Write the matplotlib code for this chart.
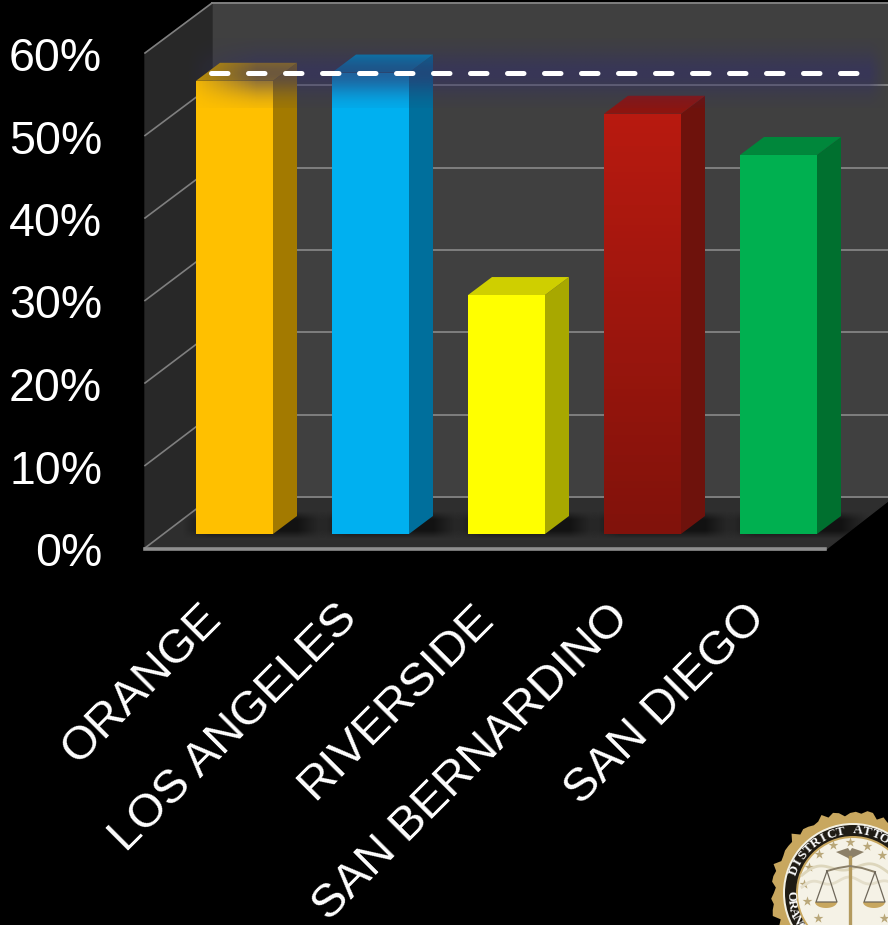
import numpy as np
import matplotlib.pyplot as plt
from matplotlib.patches import Polygon, Circle

plt.rcParams['font.family'] = ['Liberation Sans', 'DejaVu Sans']

counties = ['ORANGE', 'LOS ANGELES', 'RIVERSIDE', 'SAN BERNARDINO', 'SAN DIEGO']
values = [55, 56, 29, 51, 46]
state_value = 56
y_ticks = [0, 10, 20, 30, 40, 50, 60]
front_colors = ['#FFC000', '#00B0F0', '#FFFF00', '#B81A10', '#00B050']
side_colors = ['#A37A00', '#006F9C', '#A8A800', '#6E120C', '#00702F']
top_colors = ['#C49400', '#0089BC', '#CFCF00', '#8C1510', '#00873B']

W, H = 888, 925
BAR_W = 77 / 136
DX = 24 / 136
DY = 18 / 8.24


def px(x):
    return (x - 234.5) / 136


def py(y):
    return (534 - y) / 8.24


def soft_edge(n, width):
    u = np.linspace(0, 1, n)
    return np.clip(u / width, 0, 1) * np.clip((1 - u) / width, 0, 1)


fig = plt.figure(figsize=(W / 100, H / 100), dpi=100, facecolor='black')
ax = fig.add_axes([0, 0, 1, 1])
ax.set_facecolor('black')
ax.axis('off')

# walls and floor
ax.add_patch(Polygon([(px(212), py(3)), (px(888), py(3)), (px(888), py(497)), (px(212), py(497))],
                     color='#404040', zorder=1))
ax.add_patch(Polygon([(px(145), py(53)), (px(212), py(3)), (px(212), py(497)), (px(145), py(548))],
                     color='#282828', zorder=1))
ax.add_patch(Polygon([(px(145), py(548)), (px(212), py(497)), (px(888), py(497)), (px(888), py(501)),
                      (px(825), py(550))], color='#2E2E2E', zorder=1))

for t in y_ticks:
    yb = py(497 - t * 8.233)
    yf = py(548 - t * 8.25)
    ax.plot([px(145), px(212)], [yf, yb], color='#7F7F7F', lw=1.2, zorder=2)
    ax.plot([px(212), px(888)], [yb, yb], color='#7F7F7F', lw=1.4, zorder=2)
ax.plot([px(145), px(825)], [py(549), py(549)], color='#8F8F8F', lw=2.6, zorder=3)

for t in y_ticks:
    ax.text(px(102), py(549 - t * 8.25), f'{t}%', color='white', fontsize=33.5,
            ha='right', va='center_baseline', zorder=8)

# bars
x = np.arange(len(values))
shadow = np.zeros((40, 80, 4))
shadow[..., 3] = np.outer(soft_edge(40, 0.3), soft_edge(80, 0.2)) * 0.6
for i, v in enumerate(values):
    ax.imshow(shadow, extent=(i - BAR_W / 2 - 0.1, i + BAR_W / 2 + DX + 0.22, -0.6, DY + 0.6),
              origin='lower', aspect='auto', zorder=3)
    ax.add_patch(Polygon([(i + BAR_W / 2, 0), (i + BAR_W / 2 + DX, DY),
                          (i + BAR_W / 2 + DX, v + DY), (i + BAR_W / 2, v)],
                         color=side_colors[i], lw=0, zorder=4))
    ax.add_patch(Polygon([(i - BAR_W / 2, v), (i + BAR_W / 2, v),
                          (i + BAR_W / 2 + DX, v + DY), (i - BAR_W / 2 + DX, v + DY)],
                         color=top_colors[i], lw=0, zorder=4))
ax.bar(x, values, width=BAR_W, color=front_colors, linewidth=0, zorder=4)

# red bar darkens towards the floor
ramp = np.linspace(0, 1, 64).reshape(-1, 1)
ramp_rgba = np.zeros((64, 1, 4))
ramp_rgba[..., 3] = (1 - ramp) * 0.3
ax.imshow(ramp_rgba, extent=(3 - BAR_W / 2, 3 + BAR_W / 2, 0, values[3]), origin='lower',
          aspect='auto', zorder=4.5)

# blue glow behind the dashed line
gy = np.exp(-((np.linspace(-1, 1, 80)) ** 2) * 2.5)
gx = np.clip(np.linspace(0, 1, 200) * 10, 0, 1) * np.clip((1 - np.linspace(0, 1, 200)) * 40, 0, 1)
glow = np.zeros((80, 200, 4))
glow[..., 0] = 0.2
glow[..., 1] = 0.19
glow[..., 2] = 0.4
glow[..., 3] = np.outer(gy, gx) * 0.6
ax.imshow(glow, extent=(px(185), px(888), py(108), py(38)), origin='lower', aspect='auto', zorder=5)

ax.plot([px(211), px(863)], [state_value, state_value], color='white', lw=3.6,
        dashes=(3.3, 4.1), dash_capstyle='round', zorder=6)

for i, name in enumerate(counties):
    ax.text(i - 0.26, py(596), name, color='white', fontsize=34.2, rotation=45,
            rotation_mode='anchor', ha='right', va='top', zorder=8)

ax.set_xlim(px(0), px(W))
ax.set_ylim(py(H), py(0))

# seal in the corner
logo = fig.add_axes([0, 0, 1, 1])
logo.axis('off')
logo.patch.set_alpha(0)
logo.set_xlim(0, W)
logo.set_ylim(H, 0)
logo.set_aspect('equal')
CX, CY = 853, 893
ang = np.linspace(0, 2 * np.pi, 91)[:-1]
rad = 80.5 + 2.2 * np.sin(ang * 31) + 1.6 * np.sin(ang * 13 + 1) + 1.2 * np.sin(ang * 47)
logo.add_patch(Polygon(np.c_[CX + rad * np.cos(ang), CY + rad * np.sin(ang)], color='#C8A75F', lw=0))
logo.add_patch(Circle((CX, CY), 70, color='#F4F1E4', lw=0))
logo.add_patch(Circle((CX, CY), 68, color='#1F1B14', lw=0))
logo.add_patch(Circle((CX, CY), 57, color='#C8A75F', lw=0))
logo.add_patch(Circle((CX, CY), 55, color='#F5F2E6', lw=0))

for ch, a in zip('DISTRICT ATTO', np.arange(159, 58, -8.2)):
    r = np.radians(a)
    logo.text(CX + 62.5 * np.cos(r), CY - 62.5 * np.sin(r), ch, color='white', fontsize=9.5,
              fontweight='bold', family='Liberation Serif', rotation=a - 90, ha='center', va='center')
for ch, a in zip('ORANGE', np.arange(183, 240, 7.6)):
    r = np.radians(a)
    logo.text(CX + 62.5 * np.cos(r), CY - 62.5 * np.sin(r), ch, color='white', fontsize=9.5,
              fontweight='bold', family='Liberation Serif', rotation=a + 90, ha='center', va='center')

# faint hills behind the scales
hill = np.linspace(802, 888, 40)
logo.plot(hill, 866 + 0.004 * (hill - 850) ** 2 - 4 * np.sin((hill - 802) / 9), color='#DDD6BC', lw=2)
logo.plot(hill, 880 + 0.003 * (hill - 850) ** 2 - 3 * np.sin((hill - 802) / 6), color='#E4DECA', lw=2)

star_x = [833, 850, 867, 882, 819, 809, 804, 807, 818, 884]
star_y = [845, 842, 846, 855, 854, 867, 884, 901, 918, 918]
logo.scatter(star_x, star_y, marker='*', s=55, color='#B9A779', linewidths=0)

# scales
logo.plot([850, 850], [857, 925], color='#B39A5E', lw=2.4)
logo.plot([827, 838, 850, 862, 875], [871, 868, 866, 868, 872], color='#8A7F68', lw=1.4)
logo.plot([827, 816, 837, 827], [871, 902, 902, 871], color='#6E675A', lw=0.9)
logo.plot([875, 864, 885, 875], [872, 902, 902, 872], color='#6E675A', lw=0.9)
theta = np.linspace(0, np.pi, 24)
for c in (826, 874):
    logo.fill(c + 11 * np.cos(theta), 902 + 6 * np.sin(theta), color='#C8A75F', lw=0)
logo.fill([836, 848, 850, 852, 864, 852, 850, 848], [852, 848, 851, 848, 852, 858, 860, 858],
          color='#8C8068', lw=0)

fig.savefig('out.png', dpi=100, facecolor='black')
